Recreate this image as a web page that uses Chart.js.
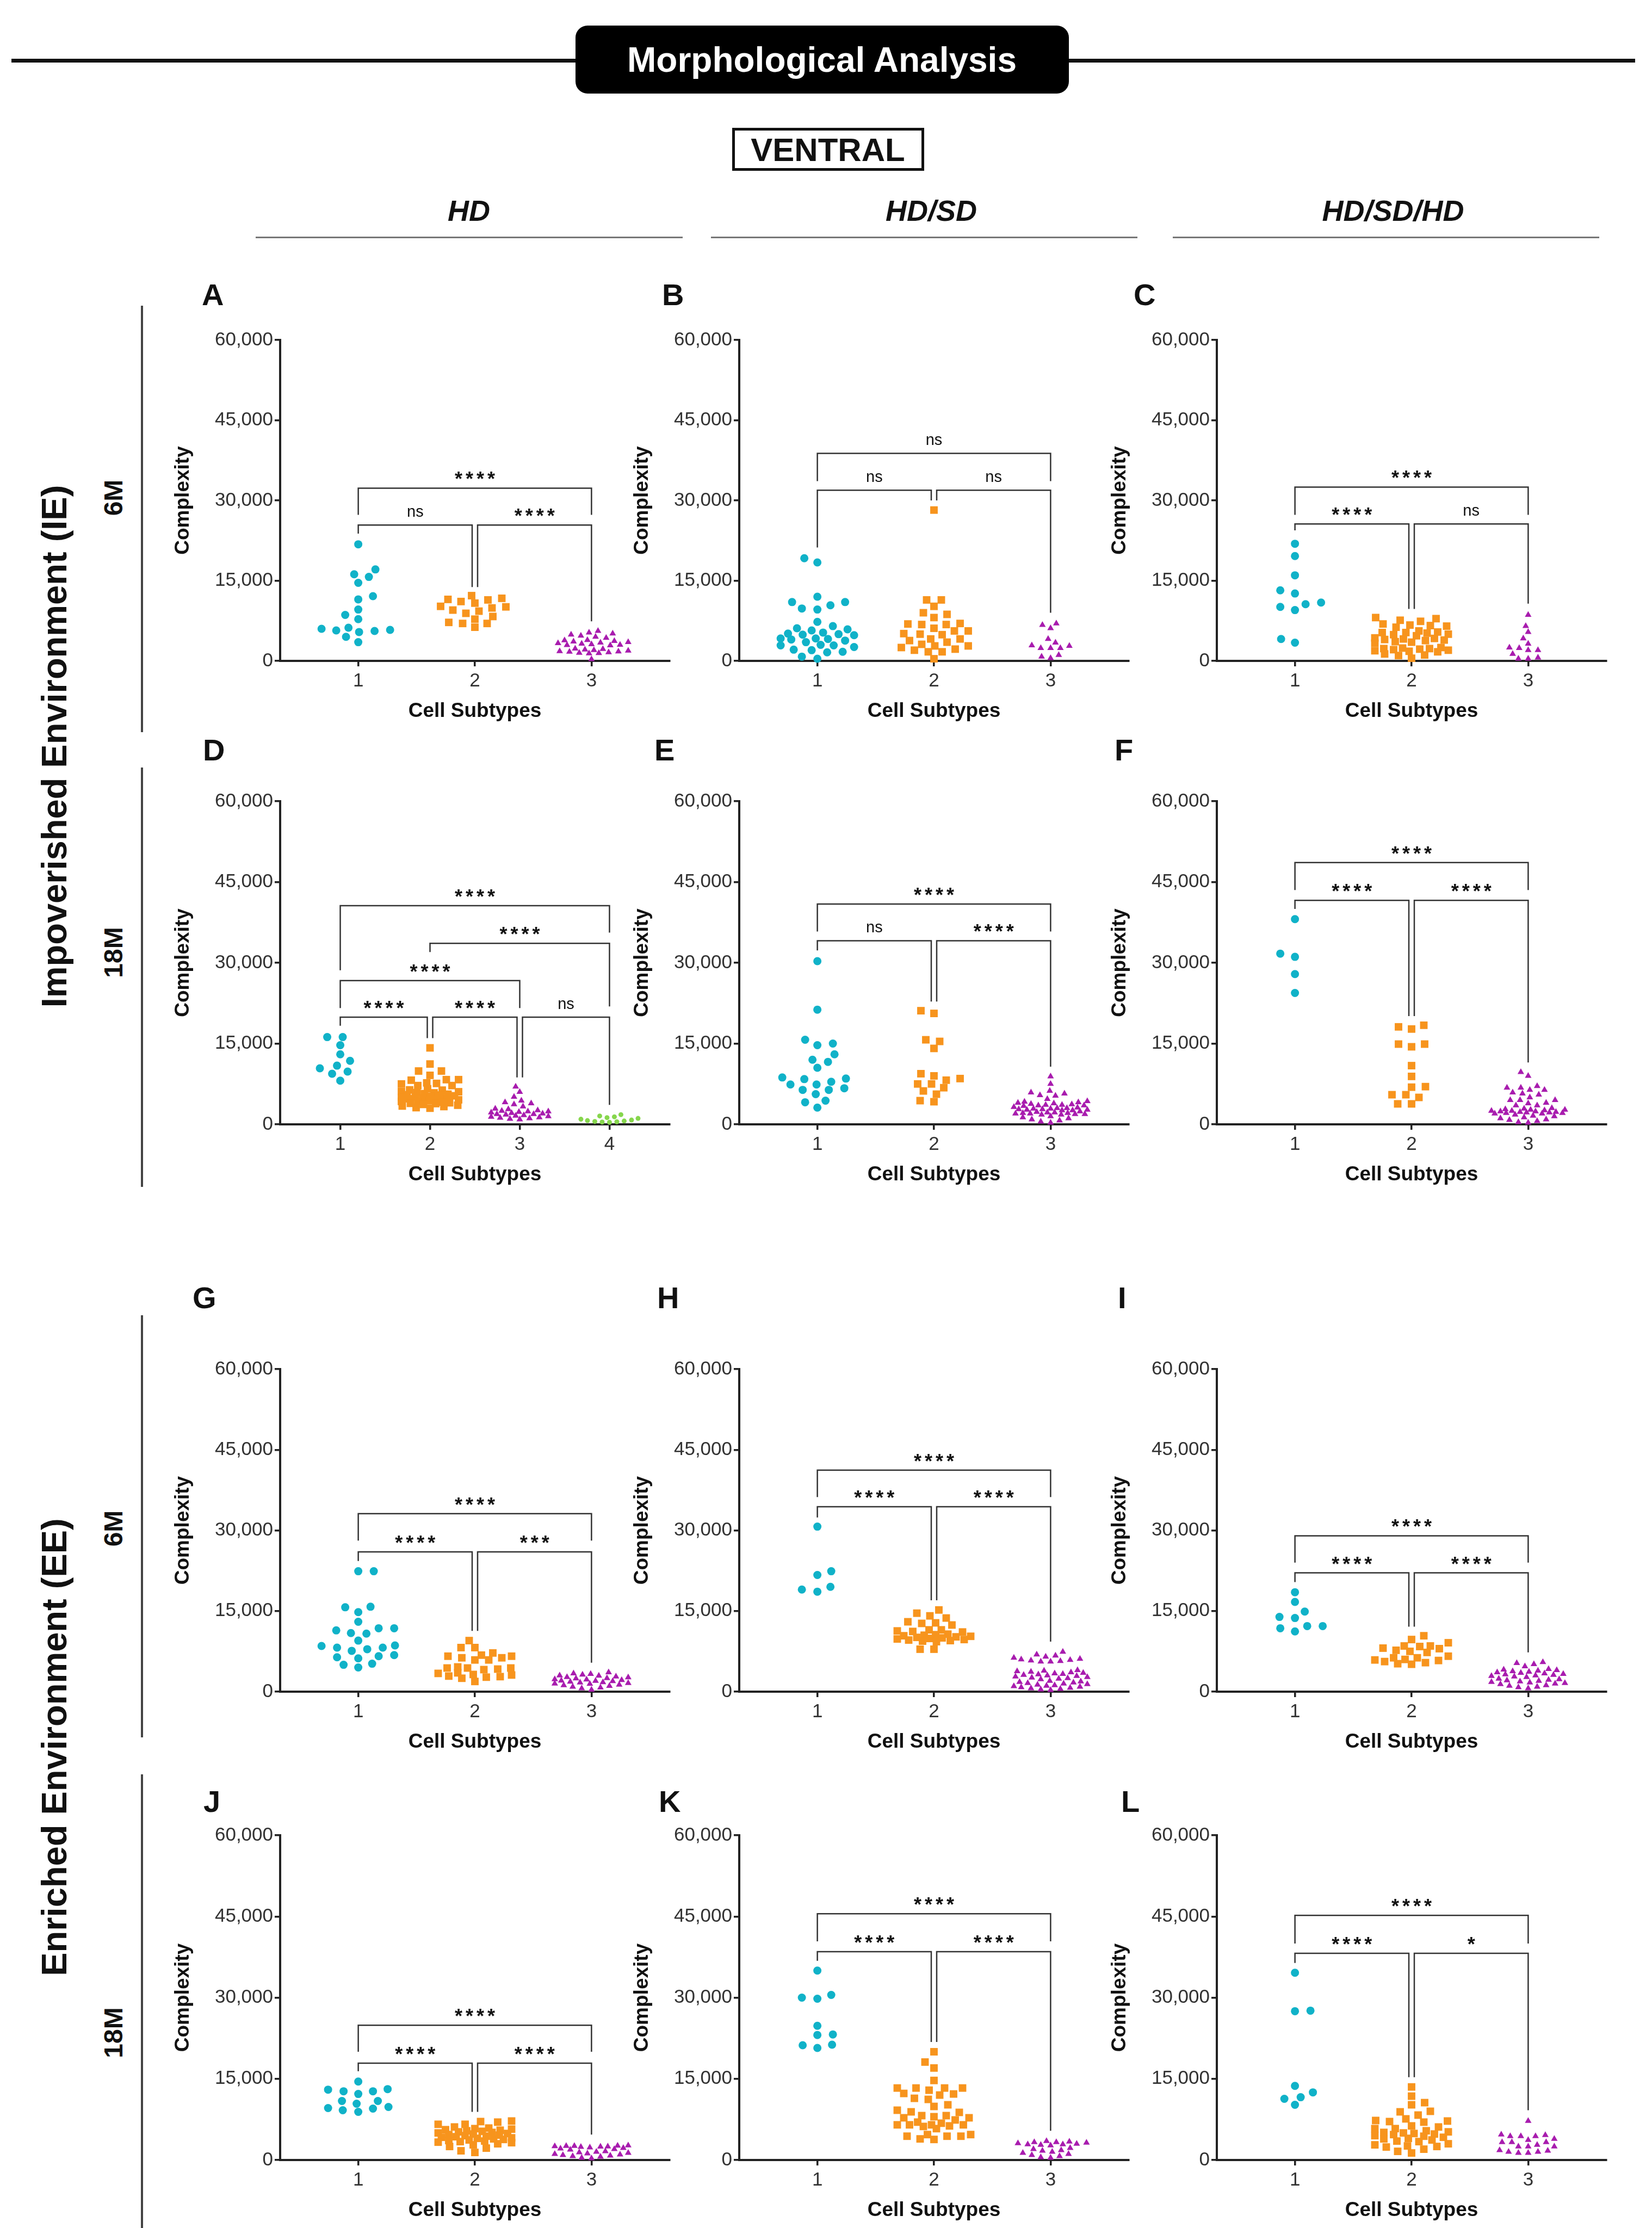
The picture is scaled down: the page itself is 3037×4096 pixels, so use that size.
<!DOCTYPE html>
<html>
<head>
<meta charset="utf-8">
<script src="https://cdn.jsdelivr.net/npm/chart.js@4.4.1/dist/chart.umd.min.js"></script>
<style>
  body { margin: 0; width: 3037px; height: 4096px; background: #fff; position: relative; overflow: hidden;
         font-family: 'Liberation Sans', Arial, sans-serif; color: #111; }
  .t { position: absolute; white-space: nowrap; line-height: 1; transform: translate(-50%, -50%); }
  .rot { transform: translate(-50%, -50%) rotate(-90deg); }
  .hline { position: absolute; background: #111; }
  .letter { position: absolute; font-weight: bold; font-size: 56px; line-height: 1; }
  canvas { position: absolute; }
</style>
</head>
<body>
<!-- header -->
<div class="hline" style="left:21px;top:108px;width:2985px;height:7px;"></div>
<div style="position:absolute;left:1058px;top:47px;width:907px;height:125px;background:#000;border-radius:22px;"></div>
<div class="t" style="left:1511px;top:110px;color:#fff;font-weight:bold;font-size:64px;">Morphological Analysis</div>
<div style="position:absolute;left:1346px;top:235px;width:353px;height:79px;border:5px solid #111;box-sizing:border-box;"></div>
<div class="t" style="left:1522px;top:276px;font-weight:bold;font-size:60px;">VENTRAL</div>
<div class="t" style="left:862px;top:387px;font-weight:bold;font-style:italic;font-size:54px;">HD</div>
<div class="t" style="left:1712px;top:387px;font-weight:bold;font-style:italic;font-size:54px;">HD/SD</div>
<div class="t" style="left:2561px;top:387px;font-weight:bold;font-style:italic;font-size:54px;">HD/SD/HD</div>
<div class="hline" style="left:470px;top:435px;width:785px;height:3px;background:#777;"></div>
<div class="hline" style="left:1307px;top:435px;width:784px;height:3px;background:#777;"></div>
<div class="hline" style="left:2156px;top:435px;width:784px;height:3px;background:#777;"></div>

<!-- row labels -->
<div class="hline" style="left:259px;top:562px;width:4px;height:784px;background:#444;"></div>
<div class="hline" style="left:259px;top:1411px;width:4px;height:771px;background:#444;"></div>
<div class="hline" style="left:259px;top:2418px;width:4px;height:776px;background:#444;"></div>
<div class="hline" style="left:259px;top:3262px;width:4px;height:834px;background:#444;"></div>
<div class="t rot" style="left:99px;top:1372px;font-weight:bold;font-size:65px;">Impoverished Environment (IE)</div>
<div class="t rot" style="left:99px;top:3212px;font-weight:bold;font-size:65px;">Enriched Environment (EE)</div>
<div class="t rot" style="left:209px;top:915px;font-weight:bold;font-size:48px;">6M</div>
<div class="t rot" style="left:209px;top:1751px;font-weight:bold;font-size:48px;">18M</div>
<div class="t rot" style="left:209px;top:2810px;font-weight:bold;font-size:48px;">6M</div>
<div class="t rot" style="left:209px;top:3737px;font-weight:bold;font-size:48px;">18M</div>

<script>
const cats3 = ['1', '2', '3'];
const cats4 = ['1', '2', '3', '4'];
const yTicks = [0, 15000, 30000, 45000, 60000];
const yMax = 60000;

// panel A (IE 6M, HD)
const a1 = [21800,17100,16200,15700,14600,12100,11500,9600,8600,7800,6200,6000,5800,5700,5600,5400,4500,3500];
const a2 = [12200,11700,11500,11400,11100,10800,10200,10100,9900,9500,9300,8900,8300,7800,7200,7000,7000,6300];
const a3 = [5600,5300,5100,4900,4700,4500,4300,3900,3850,3700,3600,3500,3400,3300,3200,3100,3000,2950,2900,
            2300,2200,2100,2000,1900,1800,1750,1700,1600,1500,1450,1400,300];
// panel B
const b1 = [19200,18400,12000,11000,11000,10400,9800,9600,7300,6500,6100,5900,5700,5300,5100,5000,4900,4800,
            4200,4200,4100,4000,3800,3500,3000,2900,2900,2600,2100,2000,1700,1600,800,400];
const b2 = [28200,11400,11400,10200,9000,8700,8100,7000,6900,6800,6800,6100,5600,5600,5100,5000,4900,4100,4100,
            3800,3500,3100,2800,2800,2500,2200,2000,1700,1700,400];
const b3 = [7000,6700,6100,4100,3400,2900,2800,2400,2400,2400,1100,800,500];
// panel C
const c1 = [21900,19600,16000,13200,12600,10900,10600,10100,9500,4100,3400];
const c2 = [8100,7900,7600,7400,6900,6700,6600,6500,6300,5600,5400,5300,5300,5200,5000,4900,4700,4300,4200,4100,
            4000,3900,3800,3600,3500,3300,2500,2400,2300,2300,2200,2100,2000,1900,1800,1700,1300,1100,1000,500];
const c3 = [8600,6500,5400,4200,3200,2500,2400,2000,2000,1300,600,400,400];
// panel D (IE 18M, HD)
const d1 = [16200,16200,14700,13000,11800,10900,10400,9800,9400,8100];
const d2 = [14200,11200,9900,9900,9100,8300,8300,8200,7700,7600,7500,7200,7200,6600,6400,6350,6100,6050,5900,
            5850,5700,5600,5500,5450,5300,5200,5150,5000,4900,4800,4750,4600,4550,4400,4300,4250,4100,4000,3900,
            3850,3700,3550,3400,3300,3100,3000];
const d3 = [7000,6000,5100,4400,4100,3900,3700,3300,2900,2800,2600,2500,2400,2400,2300,2200,2100,2000,1900,1900,
            1800,1700,1600,1500,1400,1300,1200,1100,1000,900];
const d4 = [1800,1550,1400,1250,1100,950,800,700,620,540,480,430,380];
// panel E
const e1 = [30300,21300,15700,15000,14700,13000,12000,11600,10500,8700,8500,8400,7900,7400,7400,6700,6400,6400,
            5600,4400,4100,3100];
const e2 = [21100,20600,15700,15400,14100,9400,9000,8500,8200,7500,7500,6800,6200,5600,4400,4200];
const e3 = [8900,7500,6200,5900,5700,5400,5300,4700,4300,4200,4100,4000,3900,3800,3700,3600,3600,3500,3500,3400,
            3200,3100,3000,3000,2900,2900,2800,2800,2700,2700,2600,2600,2400,2300,2200,2200,2100,2100,2000,2000,
            1900,1900,1800,1800,1500,1300,1100,900,700,500,300];
// panel F
const f1 = [38100,31700,31100,27900,24400];
const f2 = [18400,18100,17700,14900,14900,14400,10900,8900,7000,6900,5500,5500,5000,3800,3800];
const f3 = [9700,9000,7100,6800,6800,6400,6400,5900,5700,5500,5000,4500,4500,4500,4000,3900,3500,3500,3000,2900,
            2800,2700,2700,2600,2500,2500,2400,2400,2300,2300,2200,2200,2100,2100,2000,2000,1800,1600,1500,1300,
            1100,900,800,600,400,300];
// panel G (EE 6M, HD)
const g1 = [22400,22400,15800,15700,14800,13000,11800,11800,11400,10900,10800,9500,8600,8500,8200,8200,7900,7600,
            6800,6600,6400,6200,5200,5000,4500];
const g2 = [9500,8200,8200,7200,6800,6600,6600,6300,6300,5900,5900,4600,4400,4400,4400,4200,4100,3500,3400,3200,
            3100,2900,2800,2700,2500,1900];
const g3 = [3600,3400,3300,3150,3000,2950,2800,2700,2650,2500,2450,2300,2250,2150,2050,2000,1950,1850,1750,1700,
            1600,1500,1450,1300,1200,1050,900,750,600,350];
// panel H
const h1 = [30700,22400,21700,19500,19000,18600];
const h2 = [15200,14600,14100,13700,13000,12800,12700,12400,11500,11500,11300,11200,11100,10700,10600,10500,10400,
            10300,10200,10100,10000,9900,9800,9700,9600,9500,9400,9300,7900,7900];
const h3 = [7400,6900,6700,6500,6300,6100,6000,5900,5800,5700,5600,5600,4000,3900,3800,3700,3600,3500,3400,3300,
            3200,3100,3000,2900,2800,2700,2600,2500,2400,2300,2000,1900,1800,1700,1600,1500,1400,1300,1200,1100,
            1000,900,800,700,600,500,400,300];
// panel I
const i1 = [18500,16700,14900,13900,13700,12200,12200,11800,11200];
const i2 = [10400,9700,9100,8500,8500,8400,8100,8000,7700,7500,7300,6600,6300,6300,6000,5900,5800,5600,5400,5200,5100];
const i3 = [5500,5300,5100,4700,4200,4100,4000,3900,3800,3700,3600,3500,3400,3300,3200,3100,3000,2900,2800,2700,
            2400,2300,2200,2100,2000,1900,1800,1700,1600,1500,1400,1200,1100,900,800,600];
// panel J (EE 18M, HD)
const j1 = [14500,13100,13000,12700,12700,12200,10900,10900,10400,9800,9600,9500,9200,8900];
const j2 = [7200,7100,7000,6600,6600,6100,5900,5800,5700,5600,5500,5400,5300,5200,5100,5000,4900,4800,4700,4600,
            4500,4400,4300,4200,4100,4000,3900,3800,3700,3600,3500,3400,3300,3200,3000,2800,2500,2200,1700,1400];
const j3 = [2700,2650,2600,2600,2550,2500,2450,2400,2300,2200,2100,2000,1900,1600,1500,1400,1300,1200,1100,1000,
            900,800,700,600,400,300];
// panel K
const k1 = [35000,30500,30000,29800,24800,23200,23100,21300,21200,20700];
const k2 = [20000,18100,17000,14700,13300,13300,13300,13300,12900,12300,12200,12000,11400,11200,10200,9900,9200,
            8900,8800,8200,8200,8000,7800,7800,7400,7000,6800,6500,6500,6500,6500,6300,6200,5800,4700,4700,4400,
            4400,4400,3900,3800];
const k3 = [3500,3400,3300,3300,3200,3100,3000,2900,2900,2800,2700,2200,2000,1800,1700,1500,1300,1100,900,700,500,400];
// panel L
const l1 = [34600,27600,27500,13700,12500,11600,11300,10200];
const l2 = [13500,11800,10600,10200,9000,8900,8300,7600,7300,7200,7100,7000,6300,6100,5800,5800,5400,5200,5100,
            5000,4900,4800,4700,4500,4400,4200,4000,3900,3700,3500,3400,3000,2800,2600,2500,2400,2000,1600,1300];
const l3 = [7200,4700,4600,4400,4400,4400,3900,3700,3300,3300,3300,2800,2500,2500,2500,1800,1700,1500,1500,1300,1300];

// significance brackets: [from, to, bar height, left leg end, right leg end, label]
const aBrackets = [[1,3,32300,27300,27300,'****'],[1,2,25400,23800,13800,'ns'],[2,3,25400,13800,7400,'****']];
const bBrackets = [[1,3,38800,33600,33600,'ns'],[1,2,31900,21200,30000,'ns'],[2,3,31900,30000,9000,'ns']];
const cBrackets = [[1,3,32500,27300,27300,'****'],[1,2,25600,24400,9700,'****'],[2,3,25600,9700,10700,'ns']];
const dBrackets = [[1,4,40600,28600,35600,'****'],[2,4,33600,32000,21900,'****'],[1,3,26700,21600,21600,'****'],
                   [1,2,19900,18300,16000,'****'],[2,3,19900,16000,8700,'****'],[3,4,19900,8700,3600,'ns']];
const eBrackets = [[1,3,40900,35800,35800,'****'],[1,2,34100,32300,22800,'ns'],[2,3,34100,22800,10700,'****']];
const fBrackets = [[1,3,48600,43500,43500,'****'],[1,2,41600,40000,20100,'****'],[2,3,41600,20100,11500,'****']];
const gBrackets = [[1,3,33100,28100,28100,'****'],[1,2,26000,24300,11300,'****'],[2,3,26000,11300,5400,'***']];
const hBrackets = [[1,3,41200,36200,36200,'****'],[1,2,34400,32400,17000,'****'],[2,3,34400,17000,9300,'****']];
const iBrackets = [[1,3,29000,24000,24000,'****'],[1,2,22100,20400,12100,'****'],[2,3,22100,12100,7300,'****']];
const jBrackets = [[1,3,24900,20000,20000,'****'],[1,2,17900,16400,8900,'****'],[2,3,17900,8900,4700,'****']];
const kBrackets = [[1,3,45500,40400,40400,'****'],[1,2,38500,36800,21800,'****'],[2,3,38500,21800,5400,'****']];
const lBrackets = [[1,3,45200,40000,40000,'****'],[1,2,38200,36400,15300,'****'],[2,3,38200,15300,9200,'*']];

// ---- layout & style ----
const FONT = "'Liberation Sans', Arial, sans-serif";
Chart.defaults.font.family = FONT;
const markerColors = ['#10B2C8', '#F7941D', '#A81CAE', '#86D64C'];
const markerStyles = ['circle', 'rect', 'triangle', 'circle'];
const markerRadius = [7.5, 9.8, 7, 4.5];
const swarmGap = [[28, 15], [25, 14], [17, 11], [13, 9]];

const colLeft = [515, 1359, 2237];
const rowTop = [625, 1473, 2517, 3374];
const rowH = [590, 594, 593, 597];
const plotW = 716;
const axisW = 200, padTop = 30, axisH = 120, padRight = 10;

const panels = [
  { id: 'A', col: 0, row: 0, lx: 371,  cats: cats3, groups: [a1, a2, a3], brackets: aBrackets },
  { id: 'B', col: 1, row: 0, lx: 1217, cats: cats3, groups: [b1, b2, b3], brackets: bBrackets },
  { id: 'C', col: 2, row: 0, lx: 2084, cats: cats3, groups: [c1, c2, c3], brackets: cBrackets },
  { id: 'D', col: 0, row: 1, lx: 373,  cats: cats4, groups: [d1, d2, d3, d4], brackets: dBrackets },
  { id: 'E', col: 1, row: 1, lx: 1203, cats: cats3, groups: [e1, e2, e3], brackets: eBrackets },
  { id: 'F', col: 2, row: 1, lx: 2049, cats: cats3, groups: [f1, f2, f3], brackets: fBrackets },
  { id: 'G', col: 0, row: 2, lx: 354,  cats: cats3, groups: [g1, g2, g3], brackets: gBrackets },
  { id: 'H', col: 1, row: 2, lx: 1208, cats: cats3, groups: [h1, h2, h3], brackets: hBrackets },
  { id: 'I', col: 2, row: 2, lx: 2055, cats: cats3, groups: [i1, i2, i3], brackets: iBrackets },
  { id: 'J', col: 0, row: 3, lx: 374,  cats: cats3, groups: [j1, j2, j3], brackets: jBrackets },
  { id: 'K', col: 1, row: 3, lx: 1211, cats: cats3, groups: [k1, k2, k3], brackets: kBrackets },
  { id: 'L', col: 2, row: 3, lx: 2061, cats: cats3, groups: [l1, l2, l3], brackets: lBrackets }
];
const letterY = [542, 1379, 2386, 3312];

// beeswarm offsets (layout only, values untouched)
function swarmOffsets(values, sx, sy, pxPerX, pxPerY, maxHalf) {
  const order = values.map((v, i) => i).sort((p, q) => values[p] - values[q]);
  const cands = [0];
  for (let s = 1.5; s <= maxHalf; s += 1.5) cands.push(s, -s);
  const placed = [];
  const offs = new Array(values.length).fill(0);
  order.forEach((i, n) => {
    const py = values[i] * pxPerY;
    let best = 0, bestD = -1;
    for (const c0 of cands) {
      const cx = n % 2 ? -c0 : c0;
      let d = Infinity;
      for (const p of placed) {
        const dy = (p.y - py) / sy;
        if (Math.abs(dy) >= 1) continue;
        const dx = (p.x - cx) / sx;
        d = Math.min(d, Math.hypot(dx, dy));
      }
      if (d >= 1) { best = cx; break; }
      if (d > bestD) { bestD = d; best = cx; }
    }
    placed.push({ x: best, y: py });
    offs[i] = best / pxPerX;
  });
  return offs;
}

function bracketPlugin(items) {
  return {
    id: 'sigBrackets',
    afterDatasetsDraw(chart) {
      const { ctx, scales: { x, y } } = chart;
      const gap = 5;
      ctx.save();
      ctx.strokeStyle = '#333';
      ctx.lineWidth = 2.5;
      ctx.lineJoin = 'miter';
      items.forEach(([a, b, top, legA, legB, label]) => {
        let xa = x.getPixelForValue(a), xb = x.getPixelForValue(b);
        if (items.some(o => o[2] === top && o[1] === a)) xa += gap;
        if (items.some(o => o[2] === top && o[0] === b)) xb -= gap;
        const yt = y.getPixelForValue(top);
        ctx.beginPath();
        ctx.moveTo(xa, y.getPixelForValue(legA));
        ctx.lineTo(xa, yt);
        ctx.lineTo(xb, yt);
        ctx.lineTo(xb, y.getPixelForValue(legB));
        ctx.stroke();
        ctx.textAlign = 'center';
        ctx.textBaseline = 'alphabetic';
        ctx.fillStyle = '#111';
        if (label === 'ns') {
          ctx.font = '29px ' + FONT;
          ctx.letterSpacing = '0px';
          ctx.fillText(label, (xa + xb) / 2, yt - 15);
        } else {
          ctx.font = 'bold 36px ' + FONT;
          ctx.letterSpacing = '6px';
          ctx.fillText(label, (xa + xb) / 2 + 3, yt - 4);
        }
      });
      ctx.restore();
    }
  };
}

panels.forEach(p => {
  const n = p.cats.length;
  const h = rowH[p.row];
  const canvas = document.createElement('canvas');
  canvas.width = axisW + plotW + padRight;
  canvas.height = padTop + h + axisH;
  canvas.style.left = (colLeft[p.col] - axisW) + 'px';
  canvas.style.top = (rowTop[p.row] - padTop) + 'px';
  document.body.appendChild(canvas);

  const letter = document.createElement('div');
  letter.className = 'letter';
  letter.textContent = p.id;
  letter.style.left = p.lx + 'px';
  letter.style.top = (letterY[p.row] - 28) + 'px';
  document.body.appendChild(letter);

  const pxPerX = plotW / (n + 0.34);
  const pxPerY = h / yMax;
  const datasets = p.groups.map((vals, g) => {
    const offs = swarmOffsets(vals, swarmGap[g][0], swarmGap[g][1], pxPerX, pxPerY, pxPerX * 0.32);
    return {
      label: 'Subtype ' + p.cats[g],
      data: vals.map((v, i) => ({ x: g + 1 + offs[i], y: v })),
      pointStyle: markerStyles[g],
      pointRadius: markerRadius[g],
      pointBackgroundColor: markerColors[g],
      pointBorderWidth: 0,
      clip: false
    };
  });

  new Chart(canvas, {
    type: 'scatter',
    data: { datasets },
    options: {
      responsive: false,
      animation: false,
      events: [],
      layout: { padding: { top: padTop, right: padRight, left: 0, bottom: 0 } },
      plugins: { legend: { display: false }, tooltip: { enabled: false } },
      scales: {
        x: {
          type: 'linear',
          min: 0.33,
          max: n + 0.67,
          afterBuildTicks: s => { s.ticks = p.cats.map((c, i) => ({ value: i + 1 })); },
          afterFit: s => { s.height = axisH; },
          ticks: { callback: v => p.cats[Math.round(v) - 1], autoSkip: false, maxRotation: 0,
                   font: { size: 35 }, color: '#333', padding: 6 },
          grid: { drawOnChartArea: false, drawTicks: true, tickLength: 10, color: '#222', lineWidth: 3.5 },
          border: { color: '#222', width: 4 },
          title: { display: true, text: 'Cell Subtypes', color: '#111',
                   font: { size: 37, weight: 'bold' }, padding: { top: 0, bottom: 5 } }
        },
        y: {
          min: 0,
          max: yMax,
          afterBuildTicks: s => { s.ticks = yTicks.map(v => ({ value: v })); },
          afterFit: s => { s.width = axisW; },
          ticks: { callback: v => v.toLocaleString('en-US'), font: { size: 35 }, color: '#333', padding: 3 },
          grid: { drawOnChartArea: false, drawTicks: true, tickLength: 10, color: '#222', lineWidth: 3.5 },
          border: { color: '#222', width: 4 },
          title: { display: true, text: 'Complexity', color: '#111',
                   font: { size: 37, weight: 'bold' }, padding: { top: 0, bottom: 0 } }
        }
      }
    },
    plugins: [bracketPlugin(p.brackets)]
  });
});
</script>
</body>
</html>
